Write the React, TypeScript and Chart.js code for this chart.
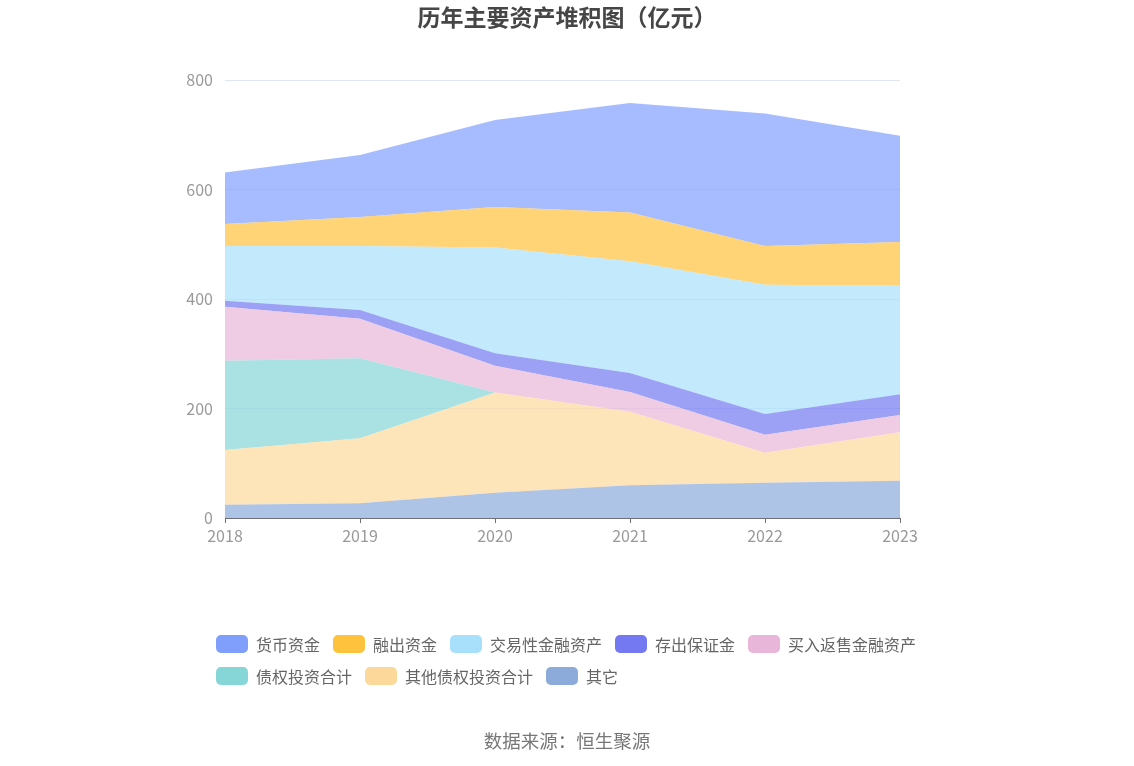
import React, { useEffect, useRef } from "react";
import { Chart, registerables } from "chart.js";

Chart.register(...registerables);

const years = ["2018", "2019", "2020", "2021", "2022", "2023"];
const yTicks = [0, 200, 400, 600, 800];

// stacked from bottom to top
const otherAssets = [24, 27, 46, 60, 64.5, 68];
const otherDebtInvest = [100, 118.5, 183, 134, 54.5, 88.5];
const debtInvest = [163, 146.5, 0, 0, 0, 0];
const reverseRepo = [99, 72, 49, 36, 33, 31.5];
const depositMargin = [11, 16, 23, 35, 38, 38];
const tradingAssets = [100, 117, 193, 204, 236, 198];
const marginLoans = [40, 53, 74, 89, 71, 80];
const cashFunds = [94, 113, 159, 200, 242, 194];

const seriesNames = ["其它", "其他债权投资合计", "债权投资合计", "买入返售金融资产", "存出保证金", "交易性金融资产", "融出资金", "货币资金"];
const seriesData = [otherAssets, otherDebtInvest, debtInvest, reverseRepo, depositMargin, tradingAssets, marginLoans, cashFunds];
const seriesColors = ["#8cabdb", "#fdd89b", "#86d5d7", "#e8b6d9", "#7479f2", "#a8e0fb", "#ffc23d", "#809ffd"];

const legendOrder = [7, 6, 5, 4, 3, 2, 1, 0];

function hexA(hex: string, a: number) {
  const r = parseInt(hex.slice(1, 3), 16);
  const g = parseInt(hex.slice(3, 5), 16);
  const b = parseInt(hex.slice(5, 7), 16);
  return `rgba(${r},${g},${b},${a})`;
}

const FONT = '"Noto Sans CJK SC", "Noto Sans", sans-serif';

export default function App() {
  const ref = useRef<HTMLCanvasElement | null>(null);

  useEffect(() => {
    if (!ref.current) return;
    const chart = new Chart(ref.current, {
      type: "line",
      data: {
        labels: years,
        datasets: seriesData.map((d, i) => ({
          label: seriesNames[i],
          data: d,
          backgroundColor: hexA(seriesColors[i], 0.7),
          borderColor: hexA(seriesColors[i], 0.7),
          borderWidth: 0,
          pointRadius: 0,
          fill: i === 0 ? "origin" : "-1",
          tension: 0,
        })),
      },
      options: {
        responsive: false,
        animation: false,
        layout: { padding: { left: 180, right: 234, top: 80, bottom: 218 } },
        plugins: {
          legend: { display: false },
          title: { display: false },
          tooltip: { enabled: false },
        },
        scales: {
          x: {
            offset: false,
            grid: { drawOnChartArea: false, drawTicks: true, tickLength: 5, color: "#6E7079" },
            border: { display: true, color: "#6E7079" },
            ticks: { color: "#999", font: { size: 16, family: FONT }, padding: 3, maxRotation: 0 },
            afterFit: (s: any) => { s.height = 30; },
          },
          y: {
            stacked: true,
            min: 0,
            max: 800,
            afterBuildTicks: (s: any) => { s.ticks = yTicks.map((v) => ({ value: v })); },
            grid: { color: "#E0E6F1", drawTicks: false },
            border: { display: false },
            ticks: { color: "#999", font: { size: 16, family: FONT }, padding: 12 },
            afterFit: (s: any) => { s.width = 45; },
          },
        },
      },
    });
    return () => chart.destroy();
  }, []);

  const row1 = legendOrder.slice(0, 5);
  const row2 = legendOrder.slice(5);
  const renderRow = (items: number[], top: number) => (
    <div style={{ position: "absolute", left: 216, top, display: "flex", alignItems: "center", height: 18 }}>
      {items.map((i) => (
        <div key={i} style={{ display: "flex", alignItems: "center", marginRight: 13 }}>
          <div style={{ width: 32, height: 18, borderRadius: 5, background: seriesColors[i], marginRight: 8 }} />
          <span style={{ fontSize: 16, color: "#666", fontFamily: FONT, lineHeight: "18px", whiteSpace: "nowrap" }}>{seriesNames[i]}</span>
        </div>
      ))}
    </div>
  );

  return (
    <div style={{ position: "absolute", left: 0, top: 0, width: 1134, height: 766, background: "#fff" }}>
      <canvas ref={ref} width={1134} height={766} style={{ position: "absolute", left: 0, top: 0, width: 1134, height: 766 }} />
      <div style={{ position: "absolute", left: 0, top: 1, width: 1134, textAlign: "center", fontSize: 23, fontWeight: "bold", color: "#464646", fontFamily: FONT, lineHeight: "30px" }}>
        历年主要资产堆积图（亿元）
      </div>
      {renderRow(row1, 635)}
      {renderRow(row2, 667)}
      <div style={{ position: "absolute", left: 0, top: 728, width: 1134, textAlign: "center", fontSize: 18.5, color: "#777", fontFamily: FONT, lineHeight: "24px" }}>
        数据来源：恒生聚源
      </div>
    </div>
  );
}
